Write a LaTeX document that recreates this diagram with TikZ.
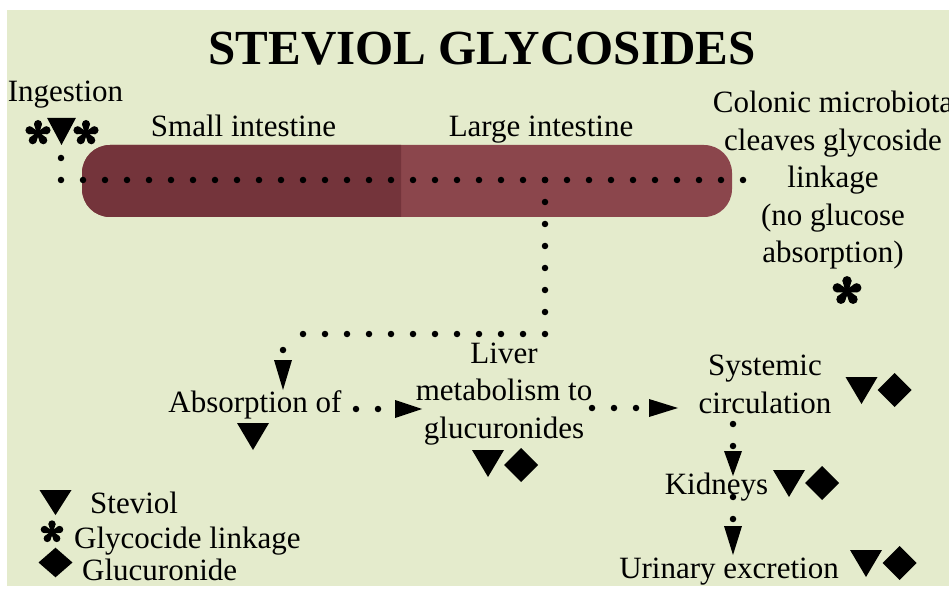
\documentclass[tikz,border=0pt]{standalone}
\usepackage{fontspec}
\setmainfont{Liberation Serif}
\usetikzlibrary{arrows.meta,calc}
\definecolor{bggreen}{HTML}{E4EBCC}
\definecolor{gutdark}{HTML}{74343B}
\definecolor{gutlight}{HTML}{8B464C}
\begin{document}
\begin{tikzpicture}[x=1pt,y=-1pt,
  lbl/.style={inner sep=0pt, font=\fontsize{31}{37.5}\selectfont, anchor=base, align=center},
  lbll/.style={lbl, anchor=base west},
  titlestyle/.style={inner sep=0pt, font=\fontsize{49}{58}\selectfont\bfseries, anchor=base},
  dotline/.style={line width=6.5pt, line cap=round, dash pattern=on 0pt off 22pt},
  dotarrow/.style={dotline, -{Triangle[length=#1,width=18pt,line width=0pt]}},
  dotarrow/.default=28pt,
  ast/.pic={\fill (0,0) circle (3);
    \foreach \a in {-90,-18,54,126,198}{
      \fill ($(\a+90:1.4)$) -- ($(\a:9)+(\a+90:4)$) -- ($(\a:9)+(\a-90:4)$) -- ($(\a-90:1.4)$) -- cycle;
      \fill (\a:9) circle (4);}},
  tri/.pic={\fill (-16,0) -- (16,0) -- (0,27) -- cycle;},
  dia/.pic={\fill (0,-17) -- (17,0) -- (0,17) -- (-17,0) -- cycle;},
]
% background
\fill[white] (0,0) rectangle (949,593);
\fill[bggreen] (7,10) rectangle (949,586);
\useasboundingbox (0,0) rectangle (949,593);

% intestine tube
\fill[gutlight, rounded corners=28pt] (82,145) rectangle (732,217);
\begin{scope}
  \clip (0,0) rectangle (401,593);
  \fill[gutdark, rounded corners=28pt] (82,145) rectangle (732,217);
\end{scope}

% texts (multi-line nodes: base = baseline of last line)
\node[titlestyle] (title) at (482,65) {STEVIOL GLYCOSIDES};
\node[lbl] (ingestion) at (65.5,102) {Ingestion};
\node[lbl] (small) at (243.5,137) {Small intestine};
\node[lbl] (large) at (541,137) {Large intestine};
\node[lbl] (colonic) at (833,263) {Colonic microbiota\\cleaves glycoside\\linkage\\(no glucose\\absorption)};
\node[lbl] (absorb) at (255,412) {Absorption of};
\node[lbl] (liver) at (504,438) {Liver\\metabolism to\\glucuronides};
\node[lbl] (systemic) at (765,413) {Systemic\\circulation};
\node[lbl] (kidneys) at (716.5,494) {Kidneys};
\node[lbl] (urinary) at (729,578) {Urinary excretion};
\node[lbll] (legS) at (90,513) {Steviol};
\node[lbll] (legG) at (74,548) {Glycocide linkage};
\node[lbll] (legU) at (82,580) {Glucuronide};

% connector coordinates
\coordinate (ingdot) at (61,136);
\coordinate (gutin) at (61,180);
\coordinate (gutout) at (743,180);
\coordinate (branch) at (545,180);
\coordinate (bendA) at (545,334);
\coordinate (bendB) at (283,334);
\coordinate (absin) at (283,350);
\coordinate (abstip) at (283,390);
\coordinate (absout) at (356,409);
\coordinate (liverin) at (422,409);
\coordinate (liverout) at (592,408);
\coordinate (sysin) at (678,408);
\coordinate (sysout) at (733,424);
\coordinate (kidin) at (733,476);
\coordinate (kidout) at (733,497);
\coordinate (uriin) at (733,555);

% connectors
\draw[dotline] (ingdot) -- (gutin) -- (gutout);
\draw[dotline] (branch) -- (bendA) -- (bendB);
\draw[dotarrow=30pt] (absin) -- (abstip);
\draw[dotarrow=27pt] (absout) -- (liverin);
\draw[dotarrow=29pt] (liverout) -- (sysin);
\draw[dotarrow=25pt] (sysout) -- (kidin);
\draw[dotarrow=29pt] (kidout) -- (uriin);

% symbols
\pic[scale=1.0] at (38,133) {ast};
\pic[xscale=0.9] at (61.5,118) {tri};
\pic[scale=1.0] at (86,133) {ast};
\pic[scale=1.15] at (847,291) {ast};
\pic at (253,423) {tri};
\pic at (488,450) {tri};
\pic at (521,465) {dia};
\pic at (861.5,377) {tri};
\pic at (894.5,390) {dia};
\pic at (789,470) {tri};
\pic at (822,483) {dia};
\pic at (866,550) {tri};
\pic at (899.5,563) {dia};
% legend
\pic[yscale=0.93] at (55.5,490) {tri};
\pic[scale=0.9] at (52,532) {ast};
\pic[yscale=0.87] at (55.5,562.5) {dia};
\end{tikzpicture}
\end{document}
